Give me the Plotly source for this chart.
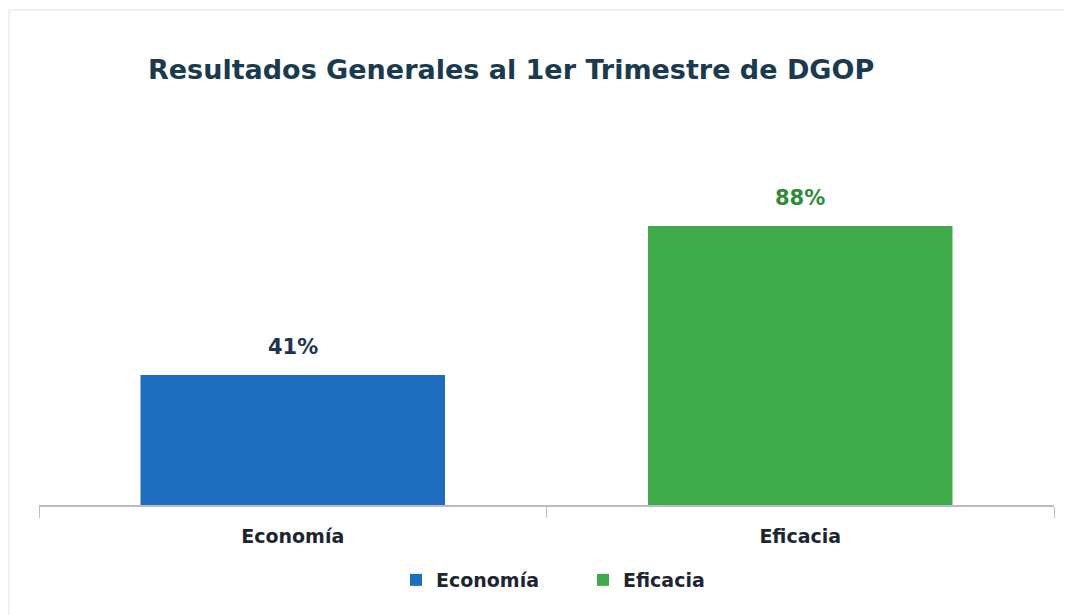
import plotly.graph_objects as go

categories = ["Economía", "Eficacia"]
values = [41, 88]
labels = ["41%", "88%"]
bar_colors = ["#1f6dbf", "#3fab4a"]
text_colors = ["#1d3550", "#2f8a3a"]

W, H = 1072, 615
L, R, T, B = 31, 26, 180, 118
pw, ph = W - L - R, H - T - B
FONT = "DejaVu Sans"

fig = go.Figure()
for cat, val, bc in zip(categories, values, bar_colors):
    fig.add_trace(go.Bar(
        x=[cat], y=[val], name=cat,
        marker=dict(color=bc, line=dict(width=0)),
        width=0.6,
    ))
for cat, val, lab, tc in zip(categories, values, labels, text_colors):
    fig.add_annotation(
        x=cat, y=val, text=f"<b>{lab}</b>", showarrow=False,
        yanchor="bottom", yshift=14,
        font=dict(color=tc, size=21, family=FONT),
    )

fig.update_layout(
    width=W, height=H,
    barmode="overlay",
    paper_bgcolor="white", plot_bgcolor="white",
    margin=dict(l=L, r=R, t=T, b=B),
    font=dict(family=FONT, color="#1d2b3a"),
    title=dict(
        text="<b>Resultados Generales al 1er Trimestre de DGOP</b>",
        x=140/W, xanchor="left", xref="container",
        y=1-62/H, yanchor="middle", yref="container",
        font=dict(size=27, color="#1a3a50", family=FONT),
    ),
    xaxis=dict(
        showline=True, linecolor="#b8bcc4", linewidth=1.5,
        ticks="outside", tickson="boundaries", ticklen=11, tickcolor="#b8bcc4",
        tickfont=dict(size=19, color="#1d2530", weight="bold"),
        ticklabelstandoff=13,
        showgrid=False,
    ),
    yaxis=dict(range=[0, 100], visible=False, showgrid=False),
    legend=dict(
        orientation="h", x=(388 - L)/pw, xanchor="left", y=-75/ph, yanchor="middle",
        font=dict(size=19, color="#1d2530", weight="bold"), itemwidth=30,
        entrywidth=142, entrywidthmode="pixels",
    ),
    showlegend=True,
)
fig.add_shape(type="rect", xref="paper", yref="paper", x0=-(L-1)/pw, x1=1+(R-1)/pw,
              y0=-(B-1)/ph, y1=1+(T-2)/ph, line=dict(color="#e3e3e3", width=1))

fig.write_html("out.html")
